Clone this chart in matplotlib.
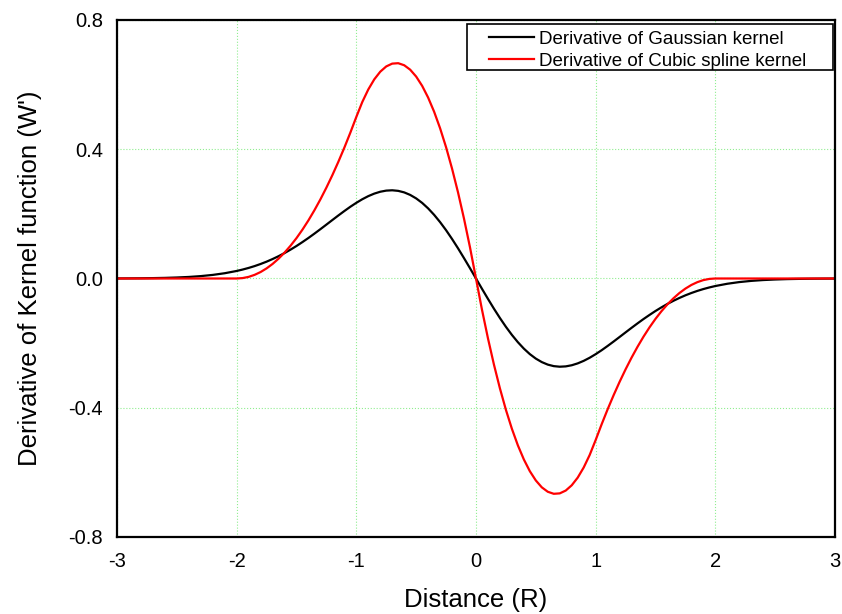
import matplotlib
matplotlib.use("Agg")
import matplotlib.pyplot as plt
from matplotlib.patches import Rectangle

plt.rcParams['font.family'] = ['Liberation Sans', 'DejaVu Sans']

# distance values (R)
distance = [-3.0, -2.9, -2.8, -2.7, -2.6, -2.5, -2.4, -2.3, -2.2, -2.1,
            -2.0, -1.95, -1.9, -1.85, -1.8, -1.75, -1.7, -1.65, -1.6, -1.55,
            -1.5, -1.45, -1.4, -1.35, -1.3, -1.25, -1.2, -1.15, -1.1, -1.05,
            -1.0, -0.95, -0.9, -0.85, -0.8, -0.75, -0.7, -0.65, -0.6, -0.55,
            -0.5, -0.45, -0.4, -0.35, -0.3, -0.25, -0.2, -0.15, -0.1, -0.05,
            0.0,
            0.05, 0.1, 0.15, 0.2, 0.25, 0.3, 0.35, 0.4, 0.45, 0.5,
            0.55, 0.6, 0.65, 0.7, 0.75, 0.8, 0.85, 0.9, 0.95, 1.0,
            1.05, 1.1, 1.15, 1.2, 1.25, 1.3, 1.35, 1.4, 1.45, 1.5,
            1.55, 1.6, 1.65, 1.7, 1.75, 1.8, 1.85, 1.9, 1.95, 2.0,
            2.1, 2.2, 2.3, 2.4, 2.5, 2.6, 2.7, 2.8, 2.9, 3.0]

gauss = [0.0002, 0.0004, 0.0007, 0.0012, 0.0019, 0.0031, 0.0048, 0.0074, 0.0111, 0.0163,
         0.0233, 0.0277, 0.0327, 0.0384, 0.0449, 0.0521, 0.0602, 0.0690, 0.0787, 0.0893,
         0.1006, 0.1128, 0.1255, 0.1389, 0.1527, 0.1668, 0.1810, 0.1951, 0.2088, 0.2220,
         0.2342, 0.2453, 0.2549, 0.2627, 0.2685, 0.2720, 0.2730, 0.2712, 0.2665, 0.2587,
         0.2479, 0.2340, 0.2170, 0.1971, 0.1745, 0.1495, 0.1223, 0.0934, 0.0630, 0.0318,
         0.0,
         -0.0318, -0.0630, -0.0934, -0.1223, -0.1495, -0.1745, -0.1971, -0.2170, -0.2340, -0.2479,
         -0.2587, -0.2665, -0.2712, -0.2730, -0.2720, -0.2685, -0.2627, -0.2549, -0.2453, -0.2342,
         -0.2220, -0.2088, -0.1951, -0.1810, -0.1668, -0.1527, -0.1389, -0.1255, -0.1128, -0.1006,
         -0.0893, -0.0787, -0.0690, -0.0602, -0.0521, -0.0449, -0.0384, -0.0327, -0.0277, -0.0233,
         -0.0163, -0.0111, -0.0074, -0.0048, -0.0031, -0.0019, -0.0012, -0.0007, -0.0004, -0.0002]

cubic = [0.0, 0.0, 0.0, 0.0, 0.0, 0.0, 0.0, 0.0, 0.0, 0.0,
         0.0, 0.0013, 0.005, 0.0113, 0.020, 0.0313, 0.045, 0.0613, 0.080, 0.1013,
         0.125, 0.1513, 0.180, 0.2113, 0.245, 0.2813, 0.320, 0.3613, 0.405, 0.4513,
         0.500, 0.5463, 0.585, 0.6163, 0.640, 0.6563, 0.665, 0.6663, 0.660, 0.6463,
         0.625, 0.5963, 0.560, 0.5163, 0.465, 0.4063, 0.340, 0.2663, 0.185, 0.0963,
         0.0,
         -0.0963, -0.185, -0.2663, -0.340, -0.4063, -0.465, -0.5163, -0.560, -0.5963, -0.625,
         -0.6463, -0.660, -0.6663, -0.665, -0.6563, -0.640, -0.6163, -0.585, -0.5463, -0.500,
         -0.4513, -0.405, -0.3613, -0.320, -0.2813, -0.245, -0.2113, -0.180, -0.1513, -0.125,
         -0.1013, -0.080, -0.0613, -0.045, -0.0313, -0.020, -0.0113, -0.005, -0.0013, 0.0,
         0.0, 0.0, 0.0, 0.0, 0.0, 0.0, 0.0, 0.0, 0.0, 0.0]

xticks = [-3, -2, -1, 0, 1, 2, 3]
yticks = [-0.8, -0.4, 0.0, 0.4, 0.8]

fig = plt.figure(figsize=(8.42, 6.14), dpi=100)
ax = fig.add_axes([0.13895, 0.12541, 0.8527, 0.84202])

ax.plot(distance, gauss, color='black', lw=1.6, label='Derivative of Gaussian kernel')
ax.plot(distance, cubic, color='red', lw=1.6, label='Derivative of Cubic spline kernel')

ax.set_xlim(-3, 3)
ax.set_ylim(-0.8, 0.8)
ax.set_xticks(xticks)
ax.set_yticks(yticks)
ax.set_xticklabels([str(t) for t in xticks])
ax.set_yticklabels(['%.1f' % t for t in yticks])
ax.tick_params(length=0, labelsize=14.5, pad=10)
ax.tick_params(axis='x', pad=11)
ax.grid(True, color='#90ee90', ls=':', lw=0.8)
for s in ax.spines.values():
    s.set_linewidth(1.6)

ax.set_xlabel('Distance (R)', fontsize=18.5, labelpad=12)
ax.set_ylabel("Derivative of Kernel function (W')", fontsize=18.5, labelpad=19)

# legend box drawn by hand
ax.add_patch(Rectangle((0.4875, 0.9033), 0.5097, 0.0899, transform=ax.transAxes,
                       facecolor='white', edgecolor='black', lw=1.2, zorder=5))
leg = ax.legend(loc='upper left', bbox_to_anchor=(0.518, 0.979), fontsize=13.5,
                frameon=False, borderaxespad=0, borderpad=0, handlelength=2.4,
                labelspacing=0.26, handletextpad=0.25)
leg.set_zorder(6)

fig.savefig('out.png', dpi=100)
